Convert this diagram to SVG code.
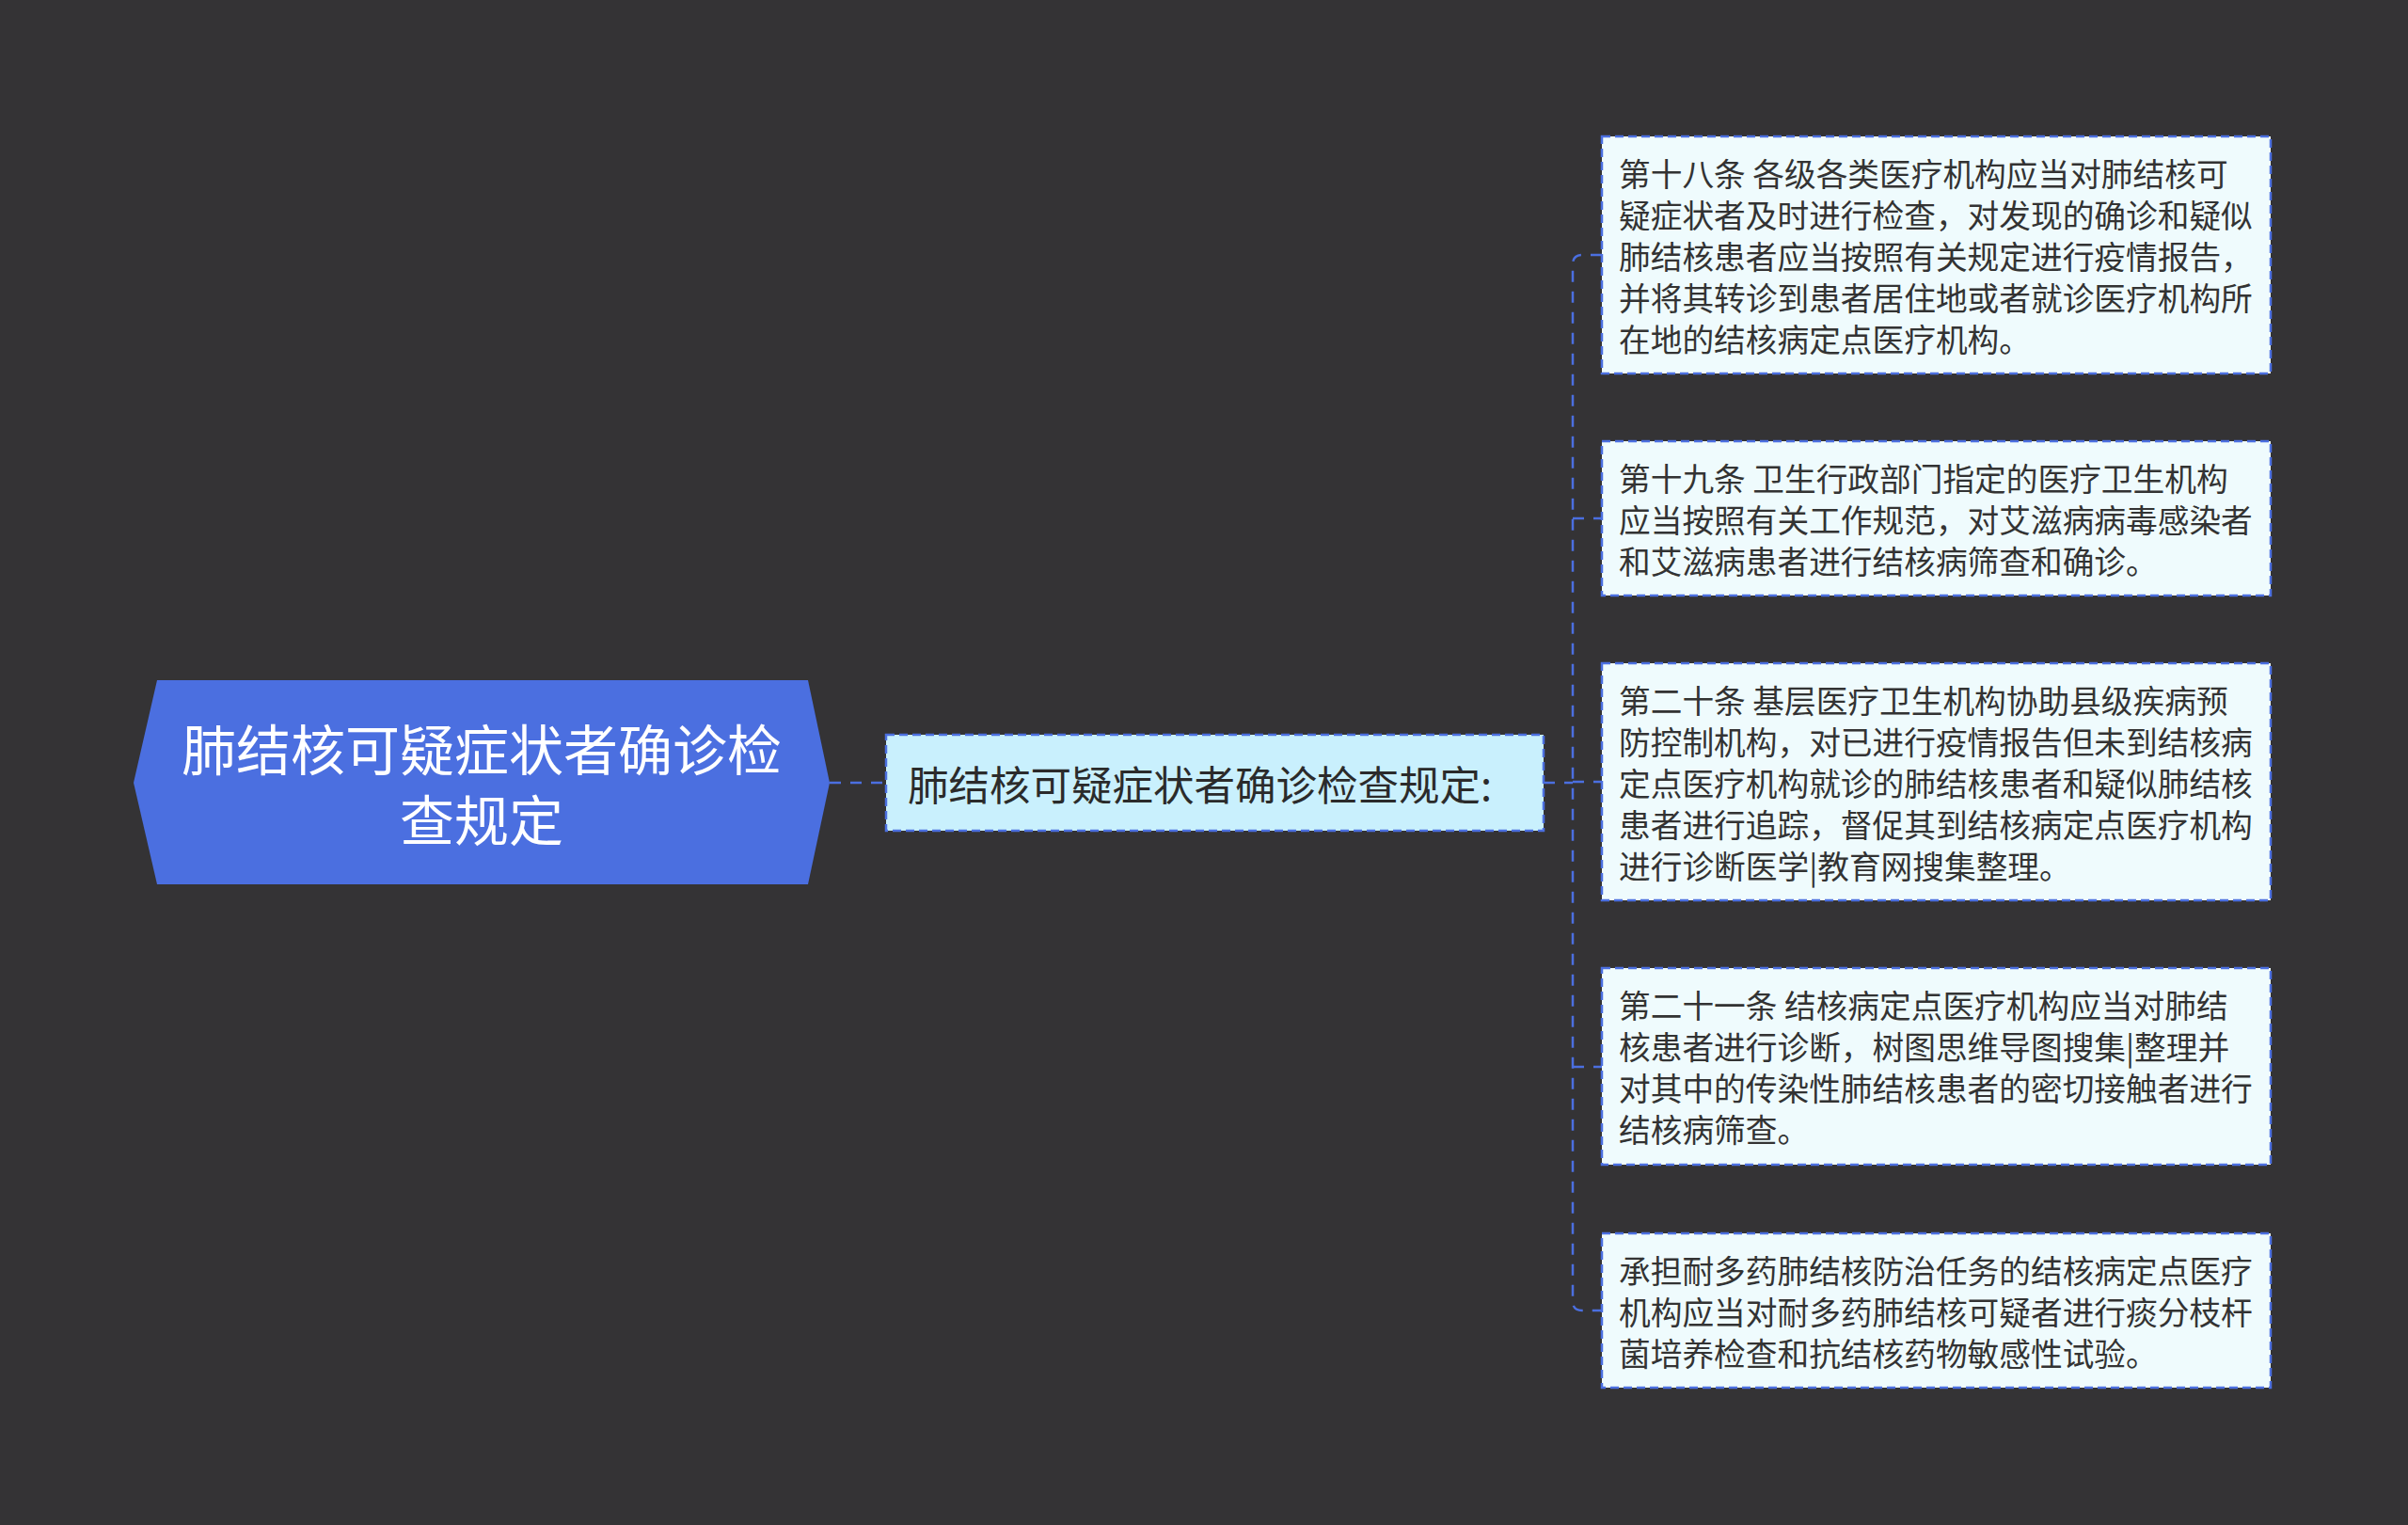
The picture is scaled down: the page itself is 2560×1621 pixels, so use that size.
<svg xmlns="http://www.w3.org/2000/svg" width="2560" height="1621" viewBox="0 0 2560 1621">
<style>
.t{font-family:"Noto Sans CJK SC","Noto Sans",sans-serif;dominant-baseline:central}
.root{fill:#4b6fe0}
.rt{fill:#ffffff;font-size:58px;text-anchor:middle}
.mid{fill:#c9f0fd;stroke:#4b6fe0;stroke-width:2.5;stroke-dasharray:9 5}
.mt{fill:#2b2b2b;font-size:43.5px}
.leaf{fill:#effbfd;stroke:#4b6fe0;stroke-width:2.5;stroke-dasharray:9 5}
.lt{fill:#333333;font-size:33.7px}
.c{fill:none;stroke:#4b6fe0;stroke-width:2.5;stroke-dasharray:12 10}
</style>
<rect width="2560" height="1621" fill="#343335"/>
<g id="connectors">
<path class="c" d="M882,832 H942" stroke-width="3" stroke-dasharray="30 8 14 8"/>
<path class="c" d="M1641,832 H1672"/>
<path class="c" d="M1703,271 H1682 Q1672,271 1672,281 V1383 Q1672,1393 1682,1393 H1703"/>
<path class="c" d="M1672,551 H1703"/>
<path class="c" d="M1672,831 H1703"/>
<path class="c" d="M1672,1134 H1703"/>
</g>
<g id="root">
<polygon class="root" points="142,832 167,723 859,723 882,832 859,940 167,940"/>
<text class="t rt"><tspan x="512" y="794">肺结核可疑症状者确诊检</tspan><tspan x="512" y="869">查规定</tspan></text>
</g>
<g id="mid">
<rect class="mid" x="942" y="781" width="699" height="102"/>
<text class="t mt" x="965" y="832">肺结核可疑症状者确诊检查规定:</text>
</g>
<g id="leaf1">
<rect class="leaf" x="1703" y="145" width="711" height="252"/>
<text class="t lt" x="1721" y="183">第十八条 各级各类医疗机构应当对肺结核可</text>
<text class="t lt" x="1721" y="227">疑症状者及时进行检查，对发现的确诊和疑似</text>
<text class="t lt" x="1721" y="271">肺结核患者应当按照有关规定进行疫情报告，</text>
<text class="t lt" x="1721" y="315">并将其转诊到患者居住地或者就诊医疗机构所</text>
<text class="t lt" x="1721" y="359">在地的结核病定点医疗机构。</text>
</g>
<g id="leaf2">
<rect class="leaf" x="1703" y="469" width="711" height="164"/>
<text class="t lt" x="1721" y="507">第十九条 卫生行政部门指定的医疗卫生机构</text>
<text class="t lt" x="1721" y="551">应当按照有关工作规范，对艾滋病病毒感染者</text>
<text class="t lt" x="1721" y="595">和艾滋病患者进行结核病筛查和确诊。</text>
</g>
<g id="leaf3">
<rect class="leaf" x="1703" y="705" width="711" height="252"/>
<text class="t lt" x="1721" y="743">第二十条 基层医疗卫生机构协助县级疾病预</text>
<text class="t lt" x="1721" y="787">防控制机构，对已进行疫情报告但未到结核病</text>
<text class="t lt" x="1721" y="831">定点医疗机构就诊的肺结核患者和疑似肺结核</text>
<text class="t lt" x="1721" y="875">患者进行追踪，督促其到结核病定点医疗机构</text>
<text class="t lt" x="1721" y="919">进行诊断医学|教育网搜集整理。</text>
</g>
<g id="leaf4">
<rect class="leaf" x="1703" y="1029" width="711" height="209"/>
<text class="t lt" x="1721" y="1067">第二十一条 结核病定点医疗机构应当对肺结</text>
<text class="t lt" x="1721" y="1111">核患者进行诊断，树图思维导图搜集|整理并</text>
<text class="t lt" x="1721" y="1155">对其中的传染性肺结核患者的密切接触者进行</text>
<text class="t lt" x="1721" y="1199">结核病筛查。</text>
</g>
<g id="leaf5">
<rect class="leaf" x="1703" y="1311" width="711" height="164"/>
<text class="t lt" x="1721" y="1349">承担耐多药肺结核防治任务的结核病定点医疗</text>
<text class="t lt" x="1721" y="1393">机构应当对耐多药肺结核可疑者进行痰分枝杆</text>
<text class="t lt" x="1721" y="1437">菌培养检查和抗结核药物敏感性试验。</text>
</g>
</svg>
